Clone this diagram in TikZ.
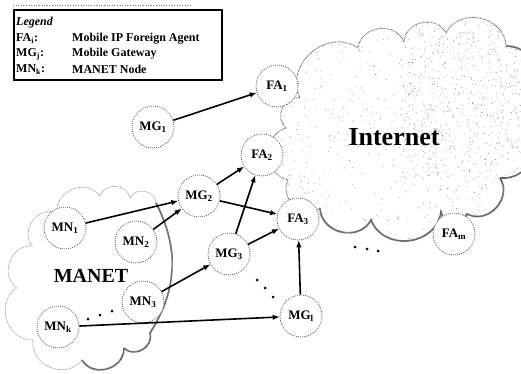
\documentclass[tikz,border=0pt]{standalone}
\usepackage{fontspec}
\setmainfont{Liberation Serif}
\usetikzlibrary{arrows.meta}
\begin{document}
\begin{tikzpicture}[x=1pt,y=-1pt,
  agent/.style={circle, draw=black!70, line width=0.7pt, dash pattern=on 0.9pt off 1.1pt,
    fill=white, minimum size=42pt, inner sep=0pt,
    font=\fontsize{13}{14}\selectfont\bfseries},
  link/.style={line width=1.6pt, -{Latex[length=7pt,width=5.5pt]}},
  lobe/.style={bend left=75, looseness=1.25},
  softlobe/.style={bend left=30},
  rim/.style={draw=black!65, line width=0.8pt, dash pattern=on 0.7pt off 0.7pt},
  shade/.style={draw=black!60, line width=1.8pt, dash pattern=on 0.6pt off 0.4pt},
  legtext/.style={anchor=west, inner sep=0pt, font=\fontsize{12}{13}\selectfont\bfseries},
  bigword/.style={inner sep=0pt, font=\bfseries},
  gap/.style={fill=black}
]
\useasboundingbox (0,0) rectangle (521,374);

% ---------------- Internet cloud ----------------
\coordinate (i1) at (300,98);
\coordinate (i2) at (358,48);
\coordinate (i3) at (404,42);
\coordinate (i4) at (446,33);
\coordinate (i5) at (506,46);
\coordinate (i6) at (524,110);
\coordinate (i7) at (500,178);
\coordinate (i8) at (467,214);
\coordinate (i9) at (441,212);
\coordinate (i10) at (371,220);
\coordinate (i11) at (320,208);
\coordinate (i12) at (288,180);
\coordinate (i13) at (286,128);
\def\inetpath{(i1) to[lobe] (i2) to[lobe] (i3) to[lobe] (i4) to[lobe] (i5)
  to[lobe] (i6) to[lobe] (i7) to[lobe] (i8) to[lobe] (i9) to[lobe] (i10)
  to[lobe] (i11) to[lobe] (i12) to[lobe] (i13) to[lobe] (i1) -- cycle}
\fill[white] \inetpath;
\begin{scope}
  \clip \inetpath;
  \pgfmathsetseed{42}
  \foreach \k in {1,...,700}{
    \pgfmathsetmacro\px{280+245*rnd}
    \pgfmathsetmacro\py{20+235*rnd}
    \fill[black!55] (\px,\py) circle (0.45pt);
  }
  \foreach \k in {1,...,500}{
    \pgfmathsetmacro\px{400+125*rnd}
    \pgfmathsetmacro\py{20+160*rnd}
    \fill[black!50] (\px,\py) circle (0.45pt);
  }
\end{scope}
\draw[rim] \inetpath;
\draw[shade] (i5) to[lobe] (i6) to[lobe] (i7) to[lobe] (i8) to[lobe] (i9) to[lobe] (i10) to[lobe] (i11);

% ---------------- MANET cloud ----------------
\coordinate (m1) at (57,213);
\coordinate (m2) at (100,196);
\coordinate (m3) at (130,198);
\coordinate (m4) at (156,203);
\coordinate (m6) at (150,333);
\coordinate (m7) at (124,348);
\coordinate (m8) at (82,360);
\coordinate (m9) at (33,340);
\coordinate (m10) at (17,288);
\coordinate (m11) at (32,246);
\draw[rim, draw=black!50, line width=0.6pt] (m1) to[lobe] (m2) to[lobe] (m3) to[lobe] (m4)
  to[softlobe] (m6) to[lobe] (m7) to[lobe] (m8) to[lobe] (m9) to[lobe] (m10)
  to[lobe] (m11) to[lobe] (m1) -- cycle;
\draw[shade] (m4) to[softlobe] (m6) to[lobe] (m7) to[lobe] (m8);

% ---------------- legend ----------------
\draw[black!55, dotted, line width=0.6pt] (13,5) -- (190,5);
\node[draw, line width=1.8pt, minimum width=208pt, minimum height=69.7pt,
  anchor=north west, inner sep=0pt] (legend) at (12.7,9.3) {};
\node[legtext] (lgtitle) at (16,23) {\textit{Legend}};
\node[legtext] (lgfa) at (16,38.5) {FA\textsubscript{i}:};
\node[legtext] (lgmg) at (16,54) {MG\textsubscript{j}:};
\node[legtext] (lgmn) at (16,69.5) {MN\textsubscript{k}:};
\node[legtext] (lgfatext) at (72,38.5) {Mobile IP Foreign Agent};
\node[legtext] (lgmgtext) at (72,54) {Mobile Gateway};
\node[legtext] (lgmntext) at (72,69.5) {MANET Node};

% ---------------- cloud names ----------------
\node[bigword, font=\fontsize{26}{28}\selectfont\bfseries] (inet) at (394,137) {Internet};
\node[bigword, font=\fontsize{20}{22}\selectfont\bfseries] (manet) at (91,276) {MANET};

% ---------------- nodes ----------------
\node[agent] (fa1) at (277,86) {FA\textsubscript{1}};
\node[agent] (fa2) at (262,155) {FA\textsubscript{2}};
\node[agent] (fa3) at (298,219) {FA\textsubscript{3}};
\node[agent] (fam) at (454,234) {FA\textsubscript{m}};
\node[agent] (mg1) at (153,127) {MG\textsubscript{1}};
\node[agent] (mg2) at (199,196) {MG\textsubscript{2}};
\node[agent] (mg3) at (229,254) {MG\textsubscript{3}};
\node[agent] (mgl) at (301,316) {MG\textsubscript{l}};
\node[agent] (mn1) at (65,228) {MN\textsubscript{1}};
\node[agent] (mn2) at (136,242) {MN\textsubscript{2}};
\node[agent] (mn3) at (143,302) {MN\textsubscript{3}};
\node[agent] (mnk) at (58,327) {MN\textsubscript{k}};

% ---------------- links ----------------
\draw[link] (mg1) -- (fa1);
\draw[link] (mn1) -- (mg2);
\draw[link] (mn2) -- (mg2);
\draw[link] (mg2) -- (fa2);
\draw[link] (mg2) -- (fa3);
\draw[link] (mg3) -- (fa2);
\draw[link] (mg3) -- (fa3);
\draw[link] (mn3) -- (mg3);
\draw[link] (mnk) -- (mgl);
\draw[link] (mgl) -- (fa3);

% ---------------- ellipsis dots ----------------
\foreach \p in {(88,319),(100,315),(112,311),(257,280),(265,288),(273,297),(355,247),(367,249),(378,251)}
  \fill[gap] \p circle (1.5pt);
\end{tikzpicture}
\end{document}
